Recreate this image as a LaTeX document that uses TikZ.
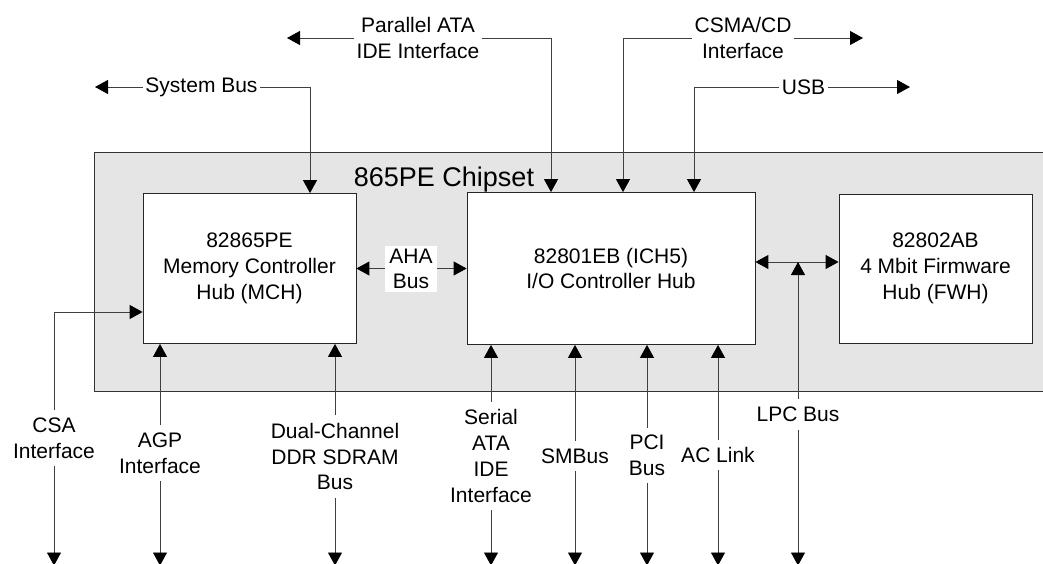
\documentclass[tikz,border=0pt]{standalone}
\usepackage{fontspec}
\setmainfont{Liberation Sans}
\usetikzlibrary{arrows.meta}
\tikzset{
  hub/.style={draw=black!85, fill=white, line width=0.8pt, align=center, inner sep=0pt},
  lbl/.style={align=center, inner xsep=2.5pt, inner ysep=2.5pt},
  buslbl/.style={align=center, inner xsep=2.5pt, inner ysep=7.5pt},
  wire/.style={draw=black!75, line width=0.9pt},
  tip/.style={-{Triangle[length=13pt,width=14pt,color=black]}},
  tips/.style={{Triangle[length=13pt,width=14pt,color=black]}-{Triangle[length=13pt,width=14pt,color=black]}},
}
\begin{document}
\begin{tikzpicture}[x=1pt,y=-1pt,font=\fontsize{21}{25.7}\selectfont]
      \useasboundingbox (0,0) rectangle (1043,564);
      % chipset area
      \fill[black!10] (94,152) rectangle (1060,391);
      \draw[black!80, line width=0.8pt] (1060,152) -- (94,152) -- (94,391) -- (1060,391);
      \node[font=\fontsize{27}{32}\selectfont] (chip) at (444,180) {865PE Chipset};

      \node[hub, minimum width=213pt, minimum height=150pt] (mch) at (249.5,268.5) {82865PE\\Memory Controller\\Hub (MCH)};
      \node[hub, minimum width=288pt, minimum height=152pt] (ich) at (611,268.5) {82801EB (ICH5)\\I/O Controller Hub};
      \node[hub, minimum width=193pt, minimum height=149pt] (fwh) at (935.5,268.5) {82802AB\\4 Mbit Firmware\\Hub (FWH)};

      \coordinate (sysL) at (95,87);
      \coordinate (sysX) at (310,0);
      \coordinate (pataL) at (287,38);
      \coordinate (pataX) at (551,0);
      \coordinate (csmaX) at (623,0);
      \coordinate (csmaR) at (863,38);
      \coordinate (usbX) at (694,0);
      \coordinate (usbR) at (910,87);
      \coordinate (csaY) at (0,312);
      \coordinate (lpcJ) at (798,262);
      \coordinate (base) at (0,565.5);

      % upper buses
      \node[lbl] (sysbus) at (201.5,87) {System Bus};
      \node[lbl] (pata) at (418,38) {Parallel ATA\\IDE Interface};
      \node[lbl] (csma) at (743,38) {CSMA/CD\\Interface};
      \node[lbl] (usb) at (803.5,87) {USB};
      \draw[wire,tip] (sysbus.west) -- (sysL);
      \draw[wire,tip] (sysbus.east) -| (sysX |- mch.north);
      \draw[wire,tip] (pata.west) -- (pataL);
      \draw[wire,tip] (pata.east) -| (pataX |- ich.north);
      \draw[wire,tip] (csma.west) -| (csmaX |- ich.north);
      \draw[wire,tip] (csma.east) -- (csmaR);
      \draw[wire,tip] (usb.west) -| (usbX |- ich.north);
      \draw[wire,tip] (usb.east) -- (usbR);

      % hub links
      \draw[wire,tips] (mch.east) -- (ich.west);
      \node[lbl, fill=white, inner xsep=4pt, inner ysep=3pt] (aha) at (411,269) {AHA\\Bus};
      \draw[wire,tips] (ich.east |- lpcJ) -- (fwh.west |- lpcJ);

      % lower buses
      \node[buslbl] (csa) at (54,438) {CSA\\Interface};
      \node[buslbl] (agp) at (160,453) {AGP\\Interface};
      \node[buslbl] (ddr) at (335,456.5) {Dual-Channel\\DDR SDRAM\\Bus};
      \node[buslbl] (sata) at (491,456) {Serial\\ATA\\IDE\\Interface};
      \node[buslbl] (smb) at (575,456) {SMBus};
      \node[buslbl] (pci) at (647,455.5) {PCI\\Bus};
      \node[buslbl] (ac) at (718,455) {AC Link};
      \node[buslbl] (lpc) at (798,414.5) {LPC Bus};

      \draw[wire,tip] (csa.north) |- (mch.west |- csaY);
      \draw[wire,tip] (agp.north) -- (agp.north |- mch.south);
      \draw[wire,tip] (ddr.north) -- (ddr.north |- mch.south);
      \draw[wire,tip] (sata.north) -- (sata.north |- ich.south);
      \draw[wire,tip] (smb.north) -- (smb.north |- ich.south);
      \draw[wire,tip] (pci.north) -- (pci.north |- ich.south);
      \draw[wire,tip] (ac.north) -- (ac.north |- ich.south);
      \draw[wire,tip] (lpc.north) -- (lpcJ);
      \foreach \b in {csa,agp,ddr,sata,smb,pci,ac,lpc}
        \draw[wire,tip] (\b.south) -- (\b.south |- base);
\end{tikzpicture}
\end{document}
